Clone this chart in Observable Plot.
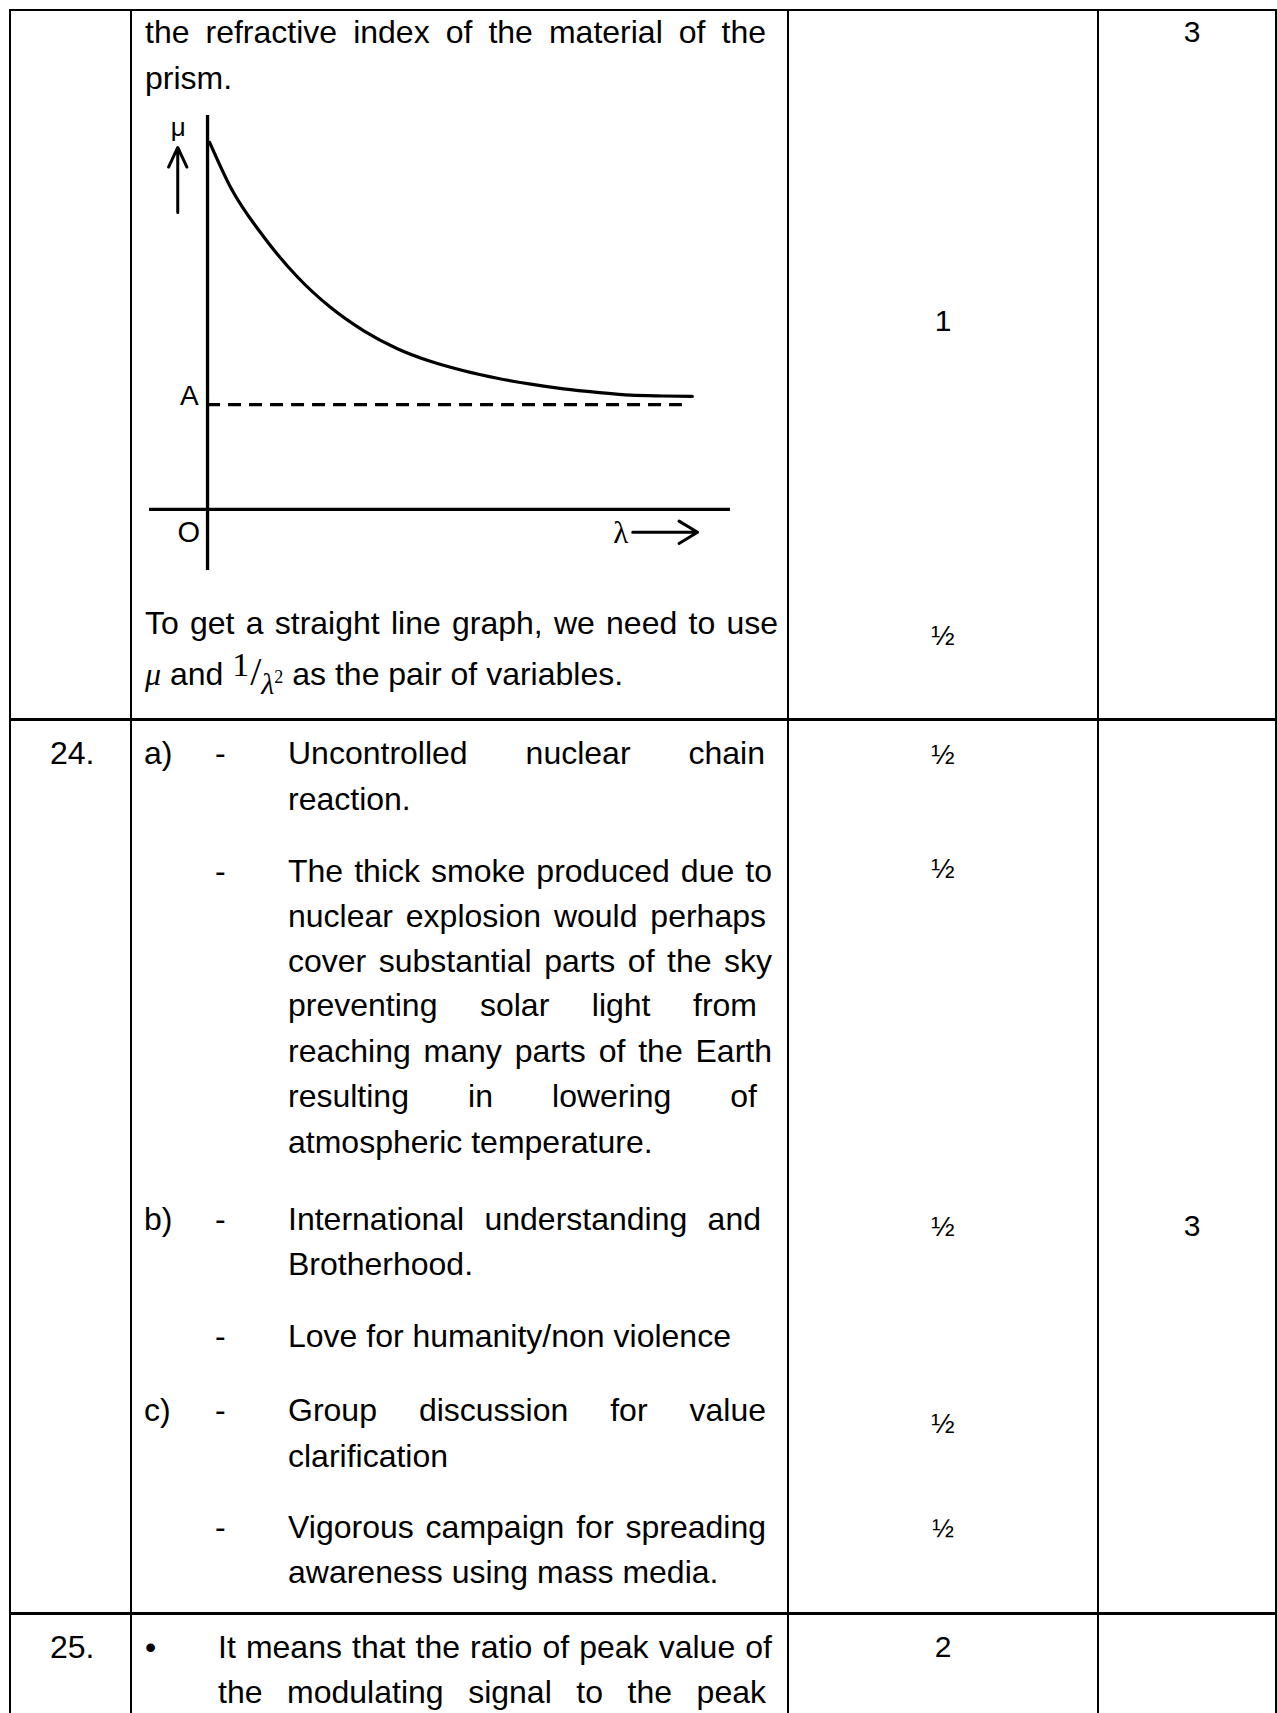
<!DOCTYPE html>
<html>
<head>
<meta charset="utf-8">
<script src="https://cdn.jsdelivr.net/npm/d3@7"></script>
<script src="https://cdn.jsdelivr.net/npm/@observablehq/plot@0.6"></script>
<style>
html,body{margin:0;padding:0;background:#fff;}
#page{position:relative;width:1277px;height:1713px;overflow:hidden;font-family:"Liberation Sans",Arial,sans-serif;color:#000;background:#fff;}
.ln{position:absolute;white-space:nowrap;font-size:32px;line-height:46px;}
.j{white-space:normal;text-align:justify;text-align-last:justify;}
.mk{position:absolute;white-space:nowrap;text-align:center;width:200px;}
.rule{position:absolute;background:#000;}
.serif{font-family:"Liberation Serif","DejaVu Serif",serif;}
#chart{position:absolute;left:130px;top:100px;}
</style>
</head>
<body>
<div id="page"><div id="chart"></div></div>
<script>
// ---- chart data (μ against λ, arbitrary units) ----
const lambda = [0.04, 0.44, 1.08, 1.72, 2.35, 2.98, 3.63, 4.26, 4.90, 5.54, 6.18, 6.81, 7.45, 8.09, 8.72, 9.27];
const mu     = [9.32, 8.18, 6.91, 5.90, 5.13, 4.54, 4.08, 3.76, 3.52, 3.33, 3.18, 3.06, 2.97, 2.90, 2.88, 2.87];
const limitA = 2.66;          // asymptote A
const limitEnd = 9.08;        // where the dashed asymptote stops
const xExtent = [-1.11, 10];  // λ axis extent
const yExtent = [-1.55, 10];  // μ axis extent
const upArrow = [{x1: -0.57, y1: 7.54, x2: -0.57, y2: 9.19}];
const rightArrow = [{x1: 8.13, y1: -0.58, x2: 9.37, y2: -0.58}];
const sansLabels = [
  {text: "A", x: -0.17, y: 2.87, anchor: "end"},
  {text: "O", x: -0.36, y: -0.59, anchor: "middle"}
];
const muLabel = [{text: "μ", x: -0.56, y: 9.70}];
const lambdaLabel = [{text: "λ", x: 7.76, y: -0.60}];

const curve = lambda.map((l, i) => ({lambda: l, mu: mu[i]}));

const chart = Plot.plot({
  width: 640, height: 500,
  marginLeft: 19, marginRight: 40, marginTop: 15, marginBottom: 30,
  style: {background: "transparent", overflow: "visible"},
  x: {domain: xExtent, axis: null},
  y: {domain: yExtent, axis: null},
  marks: [
    Plot.ruleX([0], {stroke: "#000", strokeWidth: 3.3}),
    Plot.ruleY([0], {stroke: "#000", strokeWidth: 3.2}),
    Plot.ruleY([limitA], {x1: 0, x2: limitEnd, stroke: "#000", strokeWidth: 3.2, strokeDasharray: "13,8"}),
    Plot.line(curve, {x: "lambda", y: "mu", curve: "monotone-x", stroke: "#000", strokeWidth: 3.2}),
    Plot.arrow(upArrow, {x1: "x1", y1: "y1", x2: "x2", y2: "y2", bend: 0, headLength: 12, headAngle: 50, stroke: "#000", strokeWidth: 3}),
    Plot.arrow(rightArrow, {x1: "x1", y1: "y1", x2: "x2", y2: "y2", bend: 0, headLength: 14, headAngle: 62, stroke: "#000", strokeWidth: 3}),
    Plot.text(sansLabels, {x: "x", y: "y", text: "text", textAnchor: "end", fontFamily: "Liberation Sans, Arial, sans-serif", fontSize: 28, fill: "#000",
      filter: d => d.anchor === "end"}),
    Plot.text(sansLabels, {x: "x", y: "y", text: "text", textAnchor: "middle", fontFamily: "Liberation Sans, Arial, sans-serif", fontSize: 29, fill: "#000",
      filter: d => d.anchor === "middle"}),
    Plot.text(muLabel, {x: "x", y: "y", text: "text", fontFamily: "Liberation Sans, Arial, sans-serif", fontSize: 26, fill: "#000"}),
    Plot.text(lambdaLabel, {x: "x", y: "y", text: "text", textAnchor: "start", fontFamily: "Liberation Serif, Times New Roman, serif", fontSize: 31, fill: "#000"})
  ]
});
document.getElementById("chart").appendChild(chart);

// ---- document text around the chart ----
const page = document.getElementById("page");
const FS = 32, LH = 46;
const baseOff = (LH - 1.117 * FS) / 2 + 0.905 * FS;

// [text, left, baseline, right edge for justified lines]
const textLines = [
  ["the refractive index of the material of the", 145, 43.5, 766],
  ["prism.", 145, 89],
  ["To get a straight line graph, we need to use", 145, 634, 778],
  ["24.", 50, 764],
  ["a)", 144, 764], ["-", 215, 764],
  ["Uncontrolled nuclear chain", 288, 764, 765],
  ["reaction.", 288, 810],
  ["-", 215, 882],
  ["The thick smoke produced due to", 288, 882, 772],
  ["nuclear explosion would perhaps", 288, 927, 766],
  ["cover substantial parts of the sky", 288, 972, 772],
  ["preventing solar light from", 288, 1016, 757],
  ["reaching many parts of the Earth", 288, 1062, 772],
  ["resulting in lowering of", 288, 1107, 757],
  ["atmospheric temperature.", 288, 1153],
  ["b)", 144, 1230], ["-", 215, 1230],
  ["International understanding and", 288, 1230, 761],
  ["Brotherhood.", 288, 1275],
  ["-", 215, 1347],
  ["Love for humanity/non violence", 288, 1347],
  ["c)", 144, 1421], ["-", 215, 1421],
  ["Group discussion for value", 288, 1421, 766],
  ["clarification", 288, 1467],
  ["-", 215, 1538],
  ["Vigorous campaign for spreading", 288, 1538, 766],
  ["awareness using mass media.", 288, 1583],
  ["25.", 50, 1658],
  ["•", 145, 1658],
  ["It means that the ratio of peak value of", 218, 1658, 772],
  ["the modulating signal to the peak", 218, 1703, 766]
];
for (const [t, left, base, right] of textLines) {
  const d = document.createElement("div");
  d.className = "ln" + (right ? " j" : "");
  d.style.left = left + "px";
  d.style.top = (base - baseOff) + "px";
  if (right) d.style.width = (right - left) + "px";
  d.textContent = t;
  page.appendChild(d);
}

// equation line: μ and 1/λ² as the pair of variables.
{
  const d = document.createElement("div");
  d.className = "ln";
  d.style.left = "145px";
  d.style.top = (683 - baseOff) + "px";
  d.innerHTML = '<span class="serif" style="font-style:italic">μ</span> and ' +
    '<span class="serif" style="font-size:34px;position:relative;top:-9px">1</span>' +
    '<span class="serif" style="font-size:40px;margin-left:1px">/</span>' +
    '<span class="serif" style="font-size:30px;font-style:italic;position:relative;top:9px">λ</span>' +
    '<span class="serif" style="font-size:18px;position:relative;top:-2px">2</span>' +
    ' as the pair of variables.';
  page.appendChild(d);
}

// marks columns: [text, centre x, baseline, font size]
const marks = [
  ["3", 1192, 42, 30],
  ["1", 943, 331, 30],
  ["½", 943, 646, 28],
  ["½", 943, 765, 28],
  ["½", 943, 879, 28],
  ["3", 1192, 1236, 30],
  ["½", 943, 1237, 28],
  ["½", 943, 1434, 28],
  ["½", 943, 1537, 26],
  ["2", 943, 1657, 30]
];
for (const [t, cx, base, fs] of marks) {
  const d = document.createElement("div");
  d.className = "mk";
  d.style.fontSize = fs + "px";
  d.style.lineHeight = LH + "px";
  const off = (LH - 1.117 * fs) / 2 + 0.905 * fs;
  d.style.left = (cx - 100) + "px";
  d.style.top = (base - off) + "px";
  d.textContent = t;
  page.appendChild(d);
}

// table rules: [left, top, width, height]
const rules = [
  [9, 9, 1268, 2],      // top border
  [9, 9, 2, 1704],      // left border
  [130, 9, 2, 1704],    // column 2
  [787, 9, 2, 1704],    // column 3
  [1097, 9, 2, 1704],   // column 4
  [1275, 9, 2, 1704],   // right border
  [9, 718, 1268, 3],    // row separator
  [9, 1612, 1268, 3]    // row separator
];
for (const [l, t, w, h] of rules) {
  const d = document.createElement("div");
  d.className = "rule";
  Object.assign(d.style, {left: l + "px", top: t + "px", width: w + "px", height: h + "px"});
  page.appendChild(d);
}
</script>
</body>
</html>
